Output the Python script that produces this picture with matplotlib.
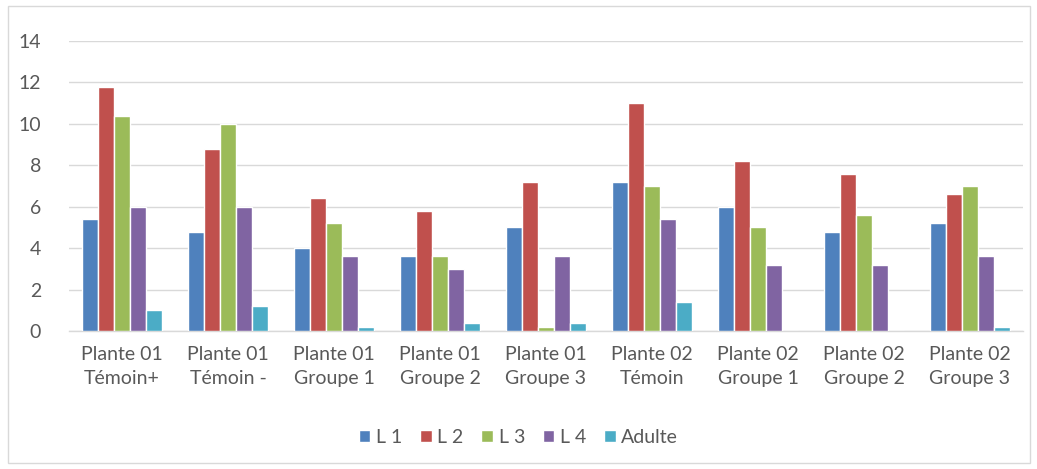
import numpy as np
import matplotlib.pyplot as plt
from matplotlib.patches import Rectangle

plt.rcParams["font.family"] = ["Lato", "DejaVu Sans"]

# Données
categories = ["Plante 01\nTémoin+", "Plante 01\nTémoin -", "Plante 01\nGroupe 1",
              "Plante 01\nGroupe 2", "Plante 01\nGroupe 3", "Plante 02\nTémoin",
              "Plante 02\nGroupe 1", "Plante 02\nGroupe 2", "Plante 02\nGroupe 3"]
l1 = [5.4, 4.8, 4.0, 3.6, 5.0, 7.2, 6.0, 4.8, 5.2]
l2 = [11.8, 8.8, 6.4, 5.8, 7.2, 11.0, 8.2, 7.6, 6.6]
l3 = [10.4, 10.0, 5.2, 3.6, 0.2, 7.0, 5.0, 5.6, 7.0]
l4 = [6.0, 6.0, 3.6, 3.0, 3.6, 5.4, 3.2, 3.2, 3.6]
adulte = [1.0, 1.2, 0.2, 0.4, 0.4, 1.4, 0.0, 0.0, 0.2]

series = [("L 1", l1, "#4F81BD"), ("L 2", l2, "#C0504D"), ("L 3", l3, "#9BBB59"),
          ("L 4", l4, "#8064A2"), ("Adulte", adulte, "#4BACC6")]

fig = plt.figure(figsize=(10.37, 4.69), dpi=100)
ax = fig.add_axes([0.0665, 0.2942, 0.92, 0.6184])

# cadre extérieur
fig.patches.append(Rectangle((0.008, 0.013), 0.985, 0.975, transform=fig.transFigure,
                             fill=False, edgecolor="#D9D9D9", linewidth=1))

x = np.arange(len(categories))
w = 0.15
for i, (name, vals, col) in enumerate(series):
    ax.bar(x + (i - 2) * w, vals, width=w, color=col, edgecolor="white",
           linewidth=1, label=name, zorder=3)

ax.set_xlim(-0.5, len(categories) - 0.5)
ax.set_ylim(0, 14)
ax.set_yticks(range(0, 15, 2))
ax.set_xticks(x)
ax.set_xticklabels(categories, linespacing=1.45)
ax.tick_params(axis="both", length=0, labelsize=14, colors="#595959")
ax.tick_params(axis="x", pad=11)
ax.tick_params(axis="y", pad=20)

ax.grid(axis="y", color="#D9D9D9", linewidth=1, zorder=0)
for s in ["top", "right", "left"]:
    ax.spines[s].set_visible(False)
ax.spines["bottom"].set_color("#D9D9D9")
ax.spines["bottom"].set_linewidth(1)

fig.legend(loc="center", bbox_to_anchor=(0.5, 0.068), ncol=5, frameon=False,
           handlelength=0.6, handleheight=0.6, handletextpad=0.3, columnspacing=0.9,
           fontsize=14, labelcolor="#595959")

fig.savefig("out.png", dpi=100)
